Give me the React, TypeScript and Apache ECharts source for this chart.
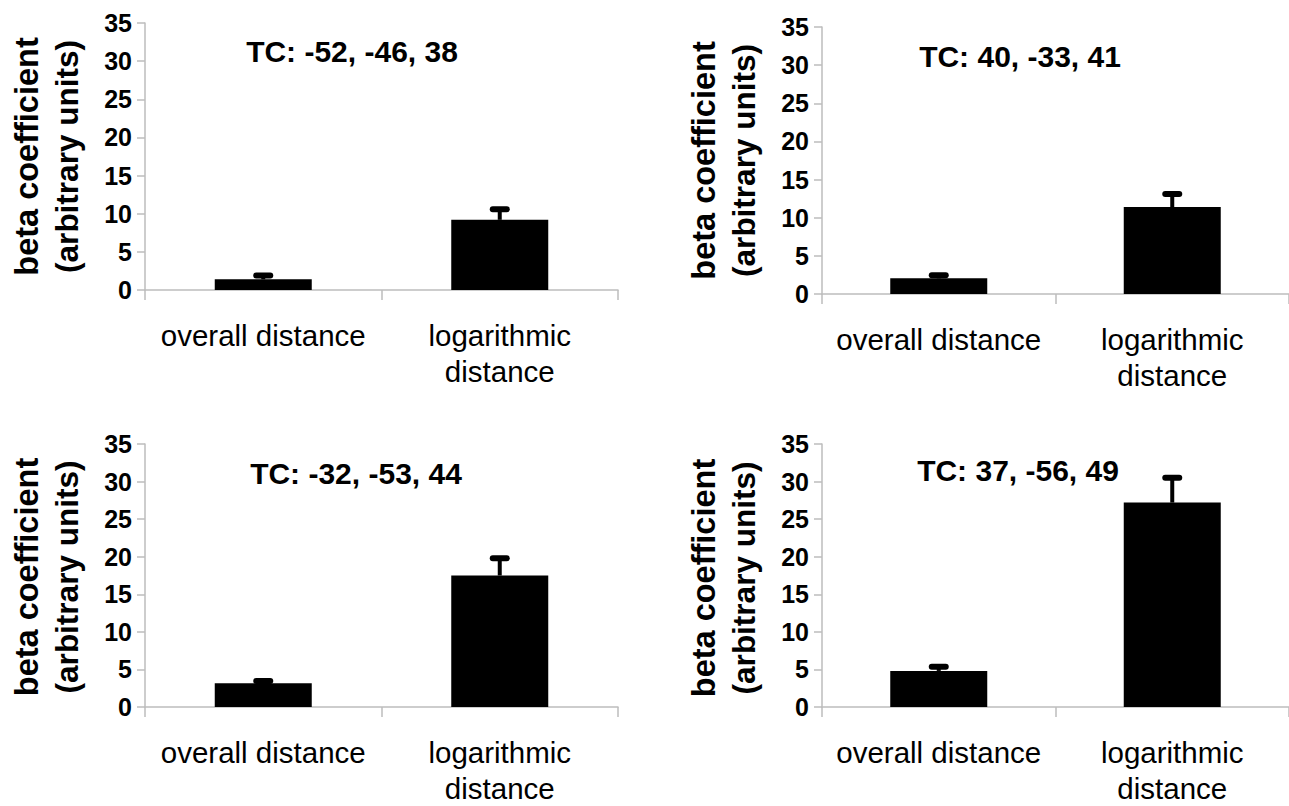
import React, { useEffect, useRef } from "react";
import * as echarts from "echarts";

const categories = ["overall distance", "logarithmic\ndistance"];
const panelTitles = ["TC: -52, -46, 38", "TC: 40, -33, 41", "TC: -32, -53, 44", "TC: 37, -56, 49"];
const barValues = [
  [1.4, 9.2],
  [2.05, 11.4],
  [3.15, 17.5],
  [4.8, 27.2],
];
const errorTops = [
  [1.9, 10.6],
  [2.45, 13.1],
  [3.45, 19.8],
  [5.35, 30.5],
];
const yTickMax = 35;
const yTickStep = 5;
const yTitleLines = ["beta coefficient", "(arbitrary units)"];

const FONT = "'Liberation Sans', Arial, Helvetica, sans-serif";
const AXIS_GRAY = "#bdbdbd";

const grids = [
  { left: 145, top: 23, width: 473, height: 267 },
  { left: 822, top: 27, width: 473, height: 267 },
  { left: 145, top: 444, width: 473, height: 266 },
  { left: 822, top: 444, width: 473, height: 268 },
];
const titlePos = [
  [352, 51],
  [1020, 56],
  [356, 473],
  [1018, 470],
];

export default function App() {
  const ref = useRef<HTMLDivElement>(null);
  useEffect(() => {
    if (!ref.current) return;
    const chart = echarts.init(ref.current, null, { renderer: "svg" });

    const xAxis = grids.map((_, i) => ({
      type: "category",
      gridIndex: i,
      data: categories,
      boundaryGap: true,
      axisLine: { show: true, lineStyle: { color: AXIS_GRAY, width: 1.5 } },
      axisTick: { show: true, length: 10, interval: 0, lineStyle: { color: AXIS_GRAY, width: 1.5 } },
      axisLabel: {
        interval: 0,
        color: "#000",
        fontFamily: FONT,
        fontSize: 29.5,
        lineHeight: 36,
        margin: 27,
      },
      splitLine: { show: false },
    }));

    const yAxis = grids.map((_, i) => ({
      type: "value",
      gridIndex: i,
      min: 0,
      max: yTickMax,
      interval: yTickStep,
      axisLine: { show: true, lineStyle: { color: AXIS_GRAY, width: 1.5 } },
      axisTick: { show: true, length: 8, lineStyle: { color: AXIS_GRAY, width: 1.5 } },
      axisLabel: {
        color: "#000",
        fontFamily: FONT,
        fontWeight: "bold",
        fontSize: 25,
        margin: 13,
      },
      splitLine: { show: false },
    }));

    const series: any[] = [];
    grids.forEach((_, i) => {
      series.push({
        type: "bar",
        xAxisIndex: i,
        yAxisIndex: i,
        data: barValues[i],
        barWidth: 97,
        itemStyle: { color: "#000" },
        z: 2,
      });
      series.push({
        type: "custom",
        xAxisIndex: i,
        yAxisIndex: i,
        data: barValues[i].map((v, k) => [k, v, errorTops[i][k]]),
        z: 3,
        renderItem: (params: any, api: any) => {
          const k = api.value(0);
          const base = api.coord([k, api.value(1)]);
          const top = api.coord([k, api.value(2)]);
          return {
            type: "group",
            children: [
              {
                type: "line",
                shape: { x1: base[0], y1: base[1], x2: top[0], y2: top[1] },
                style: { stroke: "#000", lineWidth: 4 },
              },
              {
                type: "line",
                shape: { x1: top[0] - 7, y1: top[1], x2: top[0] + 7, y2: top[1] },
                style: { stroke: "#000", lineWidth: 6, lineCap: "round" },
              },
            ],
          };
        },
      });
    });

    const graphic: any[] = [];
    grids.forEach((g, i) => {
      const midY = g.top + g.height / 2;
      graphic.push({
        type: "text",
        x: g.left - 118,
        y: midY,
        rotation: Math.PI / 2,
        style: {
          text: yTitleLines[0],
          fontFamily: FONT,
          fontWeight: "bold",
          fontSize: 32.5,
          fill: "#000",
          textAlign: "center",
          textVerticalAlign: "middle",
        },
      });
      graphic.push({
        type: "text",
        x: g.left - 78,
        y: midY,
        rotation: Math.PI / 2,
        style: {
          text: yTitleLines[1],
          fontFamily: FONT,
          fontWeight: "bold",
          fontSize: 31.5,
          fill: "#000",
          textAlign: "center",
          textVerticalAlign: "middle",
        },
      });
      graphic.push({
        type: "text",
        x: titlePos[i][0],
        y: titlePos[i][1],
        style: {
          text: panelTitles[i],
          fontFamily: FONT,
          fontWeight: "bold",
          fontSize: 30,
          fill: "#000",
          textAlign: "center",
          textVerticalAlign: "middle",
        },
      });
    });

    chart.setOption({
      animation: false,
      backgroundColor: "#fff",
      grid: grids.map((g) => ({ ...g, containLabel: false })),
      xAxis,
      yAxis,
      series,
      graphic,
    });
    return () => chart.dispose();
  }, []);

  return (
    <div
      ref={ref}
      style={{ position: "fixed", left: 0, top: 0, width: 1289, height: 806, background: "#fff" }}
    />
  );
}
